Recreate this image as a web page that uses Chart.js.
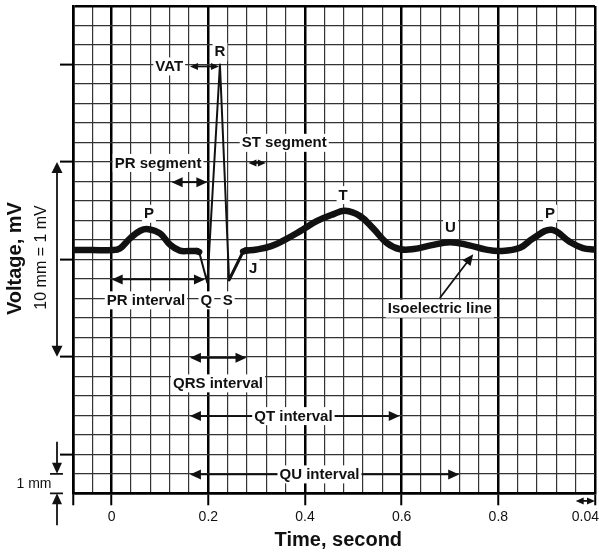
<!DOCTYPE html>
<html>
<head>
<meta charset="utf-8">
<script src="https://cdn.jsdelivr.net/npm/chart.js@4.4.1/dist/chart.umd.min.js"></script>
<style>
  html, body { margin: 0; padding: 0; background: #fff; }
  #wrap { width: 599px; height: 552px; }
</style>
</head>
<body>
<div id="wrap"><canvas id="ecg"></canvas></div>
<script>
// Kurvenabschnitte: Zeit in s, Spannung in mV
var baseP_t  = [-0.08, -0.04, 0, 0.017, 0.038, 0.059, 0.076, 0.1, 0.121, 0.141, 0.16, 0.176];
var baseP_mv = [0.048, 0.048, 0.048, 0.056, 0.108, 0.147, 0.155, 0.133, 0.075, 0.045, 0.043, 0.043];

var qrs_t  = [0.176, 0.181, 0.198, 0.224, 0.243, 0.272, 0.278];
var qrs_mv = [0.043, 0.038, -0.12, 1.0, -0.105, 0.04, 0.046];

var stTU_t  = [0.278, 0.3, 0.33, 0.36, 0.39, 0.424, 0.458, 0.483, 0.514, 0.541, 0.569, 0.597, 0.625, 0.66, 0.7, 0.74, 0.775, 0.805, 0.845, 0.872, 0.91, 0.948, 0.975, 1.0];
var stTU_mv = [0.046, 0.051, 0.068, 0.103, 0.145, 0.196, 0.231, 0.249, 0.222, 0.159, 0.085, 0.052, 0.053, 0.072, 0.088, 0.072, 0.05, 0.043, 0.06, 0.108, 0.152, 0.09, 0.058, 0.05];

var xTickValues = [0, 0.2, 0.4, 0.6, 0.8];
var xTickLabels = ['0', '0.2', '0.4', '0.6', '0.8'];
var yMajorValues = [-1.0, -0.5, 0, 0.5, 1.0];

function toXY(ts, vs) {
  return ts.map(function (t, i) { return { x: t, y: vs[i] }; });
}
function near(v, list) {
  for (var i = 0; i < list.length; i++) { if (Math.abs(v - list[i]) < 1e-6) return i; }
  return -1;
}
// Stift mit senkrechter Spitze: flache Stellen dick, steile duenn
function penWidth(c) {
  var dx = c.p1.x - c.p0.x, dy = c.p1.y - c.p0.y;
  var l = Math.sqrt(dx * dx + dy * dy) || 1;
  return Math.max(2, 7 * Math.abs(dx) / l);
}

var FONT = 'Liberation Sans, Arial, sans-serif';

var labels = [
  { t: 'R', x: 0.224, y: 1.065 },
  { t: 'VAT', x: 0.119, y: 0.99 },
  { t: 'PR segment', x: 0.096, y: 0.495 },
  { t: 'ST segment', x: 0.357, y: 0.598 },
  { t: 'P', x: 0.077, y: 0.234 },
  { t: 'T', x: 0.479, y: 0.33 },
  { t: 'U', x: 0.701, y: 0.162 },
  { t: 'P', x: 0.907, y: 0.234 },
  { t: 'J', x: 0.293, y: -0.045 },
  { t: 'Q', x: 0.196, y: -0.21 },
  { t: 'S', x: 0.24, y: -0.21 },
  { t: 'PR interval', x: 0.071, y: -0.21 },
  { t: 'QRS interval', x: 0.22, y: -0.636 },
  { t: 'QT interval', x: 0.376, y: -0.804 },
  { t: 'QU interval', x: 0.43, y: -1.103 },
  { t: 'Isoelectric line', x: 0.679, y: -0.253 }
];
var arrows = [
  { x1: 0.162, x2: 0.222, y: 0.99, small: true },
  { x1: 0.124, x2: 0.198, y: 0.396 },
  { x1: 0.283, x2: 0.319, y: 0.495, small: true },
  { x1: 0, x2: 0.193, y: -0.103 },
  { x1: 0.162, x2: 0.279, y: -0.505 },
  { x1: 0.162, x2: 0.596, y: -0.804 },
  { x1: 0.162, x2: 0.719, y: -1.103 },
  { x1: 0.96, x2: 1.0, y: -1.239, small: true }
];

function head(ctx, x, y, ang, len, half) {
  ctx.beginPath();
  ctx.moveTo(x, y);
  ctx.lineTo(x - len * Math.cos(ang) + half * Math.sin(ang), y - len * Math.sin(ang) - half * Math.cos(ang));
  ctx.lineTo(x - len * Math.cos(ang) - half * Math.sin(ang), y - len * Math.sin(ang) + half * Math.cos(ang));
  ctx.closePath();
  ctx.fill();
}
function arrow(ctx, ax, ay, bx, by, len, half, both) {
  var ang = Math.atan2(by - ay, bx - ax);
  var sx = both ? ax + len * 0.8 * Math.cos(ang) : ax, sy = both ? ay + len * 0.8 * Math.sin(ang) : ay;
  ctx.beginPath();
  ctx.moveTo(sx, sy);
  ctx.lineTo(bx - len * 0.8 * Math.cos(ang), by - len * 0.8 * Math.sin(ang));
  ctx.stroke();
  head(ctx, bx, by, ang, len, half);
  if (both) head(ctx, ax, ay, ang + Math.PI, len, half);
}
function boxText(ctx, txt, px, py) {
  var w = ctx.measureText(txt).width;
  ctx.fillStyle = '#fff';
  ctx.fillRect(px - w / 2 - 2, py - 9, w + 4, 18);
  ctx.fillStyle = '#111';
  ctx.fillText(txt, px, py + 0.5);
}

var notes = {
  id: 'notes',
  afterDatasetsDraw: function (chart) {
    var ctx = chart.ctx, xs = chart.scales.x, ys = chart.scales.y, a = chart.chartArea;
    ctx.save();
    ctx.strokeStyle = '#111';
    ctx.fillStyle = '#111';
    ctx.lineWidth = 1.8;
    arrows.forEach(function (r) {
      var L = r.small ? 8 : 11, H = r.small ? 3.5 : 5;
      arrow(ctx, xs.getPixelForValue(r.x1), ys.getPixelForValue(r.y), xs.getPixelForValue(r.x2), ys.getPixelForValue(r.y), L, H, true);
    });
    // Pfeil zur isoelektrischen Linie
    arrow(ctx, xs.getPixelForValue(0.679), ys.getPixelForValue(-0.198), xs.getPixelForValue(0.748), ys.getPixelForValue(0.026), 11, 5, false);

    ctx.font = 'bold 15px ' + FONT;
    ctx.textAlign = 'center';
    ctx.textBaseline = 'middle';
    labels.forEach(function (l) {
      boxText(ctx, l.t, xs.getPixelForValue(l.x), ys.getPixelForValue(l.y));
    });

    // linke Seite: 10 mm = 1 mV und 1 mm
    ctx.fillStyle = '#111';
    var ax = a.left - 16;
    arrow(ctx, ax, ys.getPixelForValue(0.5), ax, ys.getPixelForValue(-0.5), 11, 5.5, true);
    var y1 = ys.getPixelForValue(-1.1), y2 = ys.getPixelForValue(-1.2);
    ctx.beginPath();
    ctx.moveTo(a.left - 23, y1); ctx.lineTo(a.left - 10, y1);
    ctx.moveTo(a.left - 23, y2); ctx.lineTo(a.left - 10, y2);
    ctx.stroke();
    arrow(ctx, ax, y1 - 32, ax, y1, 11, 5, false);
    arrow(ctx, ax, y2 + 32, ax, y2, 11, 5, false);
    ctx.font = '14px ' + FONT;
    ctx.fillText('1 mm', a.left - 39, (y1 + y2) / 2 + 0.5);

    ctx.save();
    ctx.translate(a.left - 31.5, ys.getPixelForValue(0.01));
    ctx.rotate(-Math.PI / 2);
    ctx.font = '16px ' + FONT;
    ctx.fillText('10 mm = 1 mV', 0, 0);
    ctx.restore();
    ctx.save();
    ctx.translate(a.left - 58, ys.getPixelForValue(0.004));
    ctx.rotate(-Math.PI / 2);
    ctx.font = 'bold 20px ' + FONT;
    ctx.fillText('Voltage, mV', 0, 0);
    ctx.restore();

    ctx.font = 'bold 20px ' + FONT;
    ctx.fillText('Time, second', xs.getPixelForValue(0.469), a.bottom + 47);
    ctx.font = '14px ' + FONT;
    ctx.fillStyle = '#111';
    ctx.fillText('0.04', xs.getPixelForValue(0.98), a.bottom + 23.5);
    ctx.restore();
  }
};

var smooth = {
  borderColor: '#111',
  borderWidth: 6.5,
  pointRadius: 0,
  fill: false,
  borderCapStyle: 'round',
  borderJoinStyle: 'round',
  tension: 0.4
};

new Chart(document.getElementById('ecg'), {
  type: 'line',
  data: {
    datasets: [
      Object.assign({ data: toXY(baseP_t, baseP_mv) }, smooth),
      Object.assign({}, smooth, { data: toXY(qrs_t, qrs_mv), tension: 0, segment: { borderWidth: penWidth } }),
      Object.assign({ data: toXY(stTU_t, stTU_mv) }, smooth)
    ]
  },
  options: {
    responsive: true,
    maintainAspectRatio: false,
    animation: false,
    layout: { padding: { top: 6, right: 4, left: 0, bottom: 0 } },
    plugins: { legend: { display: false }, tooltip: { enabled: false } },
    scales: {
      x: {
        type: 'linear',
        min: -0.08,
        max: 1.0,
        afterFit: function (s) { s.height = 58.7; },
        ticks: {
          stepSize: 0.04,
          autoSkip: false,
          maxRotation: 0,
          padding: 3,
          color: '#111',
          font: { family: FONT, size: 14 },
          callback: function (v) {
            var i = near(v, xTickValues);
            return i >= 0 ? xTickLabels[i] : '';
          }
        },
        grid: {
          color: function (c) {
            var v = c.tick.value;
            return (near(v, xTickValues) >= 0 || near(v, [-0.08, 1.0]) >= 0) ? '#000' : '#333';
          },
          lineWidth: function (c) {
            var v = c.tick.value;
            return (near(v, xTickValues) >= 0 || near(v, [-0.08, 1.0]) >= 0) ? 2.5 : 1.2;
          },
          tickLength: 12,
          tickWidth: 2,
          tickColor: function (c) {
            var v = c.tick.value;
            return (near(v, xTickValues) >= 0 || near(v, [-0.08, 1.0]) >= 0) ? '#000' : 'rgba(0,0,0,0)';
          }
        },
        border: { display: true, color: '#000', width: 2.5 }
      },
      y: {
        type: 'linear',
        min: -1.2,
        max: 1.3,
        afterFit: function (s) { s.width = 73; },
        ticks: { stepSize: 0.1, display: false },
        grid: {
          color: function (c) {
            return near(c.tick.value, [-1.2, 1.3]) >= 0 ? '#000' : '#333';
          },
          lineWidth: function (c) {
            return near(c.tick.value, [-1.2, 1.3]) >= 0 ? 2.5 : 1.2;
          },
          tickLength: 13,
          tickWidth: 2,
          tickColor: function (c) {
            return near(c.tick.value, yMajorValues) >= 0 ? '#000' : 'rgba(0,0,0,0)';
          }
        },
        border: { display: true, color: '#000', width: 2.5 }
      }
    }
  },
  plugins: [notes]
});
</script>
</body>
</html>
